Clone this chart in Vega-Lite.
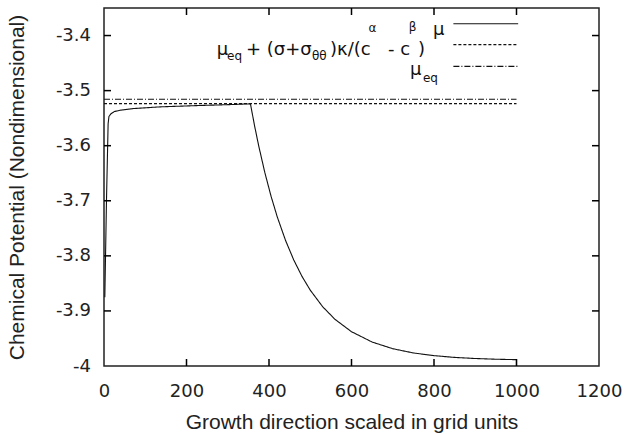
{
  "$schema": "https://vega.github.io/schema/vega-lite/v6.json",
  "width": 495,
  "height": 358,
  "autosize": "none",
  "padding": {"left": 104, "top": 8, "right": 28, "bottom": 68},
  "background": "white",
  "config": {
    "view": {"stroke": "#222", "strokeWidth": 1.5},
    "locale": {"number": {"decimal": ".", "thousands": ",", "grouping": [3], "currency": ["$", ""], "minus": "-"}},
    "axis": {"grid": false, "domain": false, "ticks": false, "labelColor": "#222", "titleColor": "#222", "zindex": 1}
  },
  "datasets": {
    "lines": [
      {"i": 1, "g": "mu", "s": "mu", "x": 2, "y": -3.875},
      {"i": 2, "g": "mu", "s": "mu", "x": 6, "y": -3.7},
      {"i": 3, "g": "mu", "s": "mu", "x": 10, "y": -3.56},
      {"i": 4, "g": "mu", "s": "mu", "x": 12, "y": -3.547},
      {"i": 5, "g": "mu", "s": "mu", "x": 17, "y": -3.542},
      {"i": 6, "g": "mu", "s": "mu", "x": 25, "y": -3.538},
      {"i": 7, "g": "mu", "s": "mu", "x": 39, "y": -3.5357},
      {"i": 8, "g": "mu", "s": "mu", "x": 71, "y": -3.5326},
      {"i": 9, "g": "mu", "s": "mu", "x": 136, "y": -3.5295},
      {"i": 10, "g": "mu", "s": "mu", "x": 233, "y": -3.527},
      {"i": 11, "g": "mu", "s": "mu", "x": 300, "y": -3.5255},
      {"i": 12, "g": "mu", "s": "mu", "x": 355, "y": -3.524},
      {"i": 13, "g": "mu", "s": "mu", "x": 365, "y": -3.5638},
      {"i": 14, "g": "mu", "s": "mu", "x": 375, "y": -3.6002},
      {"i": 15, "g": "mu", "s": "mu", "x": 390, "y": -3.6491},
      {"i": 16, "g": "mu", "s": "mu", "x": 405, "y": -3.6918},
      {"i": 17, "g": "mu", "s": "mu", "x": 420, "y": -3.7292},
      {"i": 18, "g": "mu", "s": "mu", "x": 440, "y": -3.7718},
      {"i": 19, "g": "mu", "s": "mu", "x": 460, "y": -3.8075},
      {"i": 20, "g": "mu", "s": "mu", "x": 480, "y": -3.8373},
      {"i": 21, "g": "mu", "s": "mu", "x": 500, "y": -3.8623},
      {"i": 22, "g": "mu", "s": "mu", "x": 530, "y": -3.8923},
      {"i": 23, "g": "mu", "s": "mu", "x": 560, "y": -3.9153},
      {"i": 24, "g": "mu", "s": "mu", "x": 600, "y": -3.9377},
      {"i": 25, "g": "mu", "s": "mu", "x": 650, "y": -3.9565},
      {"i": 26, "g": "mu", "s": "mu", "x": 700, "y": -3.9686},
      {"i": 27, "g": "mu", "s": "mu", "x": 750, "y": -3.9763},
      {"i": 28, "g": "mu", "s": "mu", "x": 800, "y": -3.9812},
      {"i": 29, "g": "mu", "s": "mu", "x": 850, "y": -3.9844},
      {"i": 30, "g": "mu", "s": "mu", "x": 900, "y": -3.9864},
      {"i": 31, "g": "mu", "s": "mu", "x": 950, "y": -3.9877},
      {"i": 32, "g": "mu", "s": "mu", "x": 1000, "y": -3.9885},
      {"i": 33, "g": "mu", "s": "mu", "x": 1000, "y": -4},
      {"i": 34, "g": "dash", "s": "dash", "x": 0, "y": -3.5236},
      {"i": 35, "g": "dash", "s": "dash", "x": 1000, "y": -3.5236},
      {"i": 36, "g": "dashdot", "s": "dashdot", "x": 0, "y": -3.5157},
      {"i": 37, "g": "dashdot", "s": "dashdot", "x": 1000, "y": -3.5157},
      {"i": 38, "g": "leg1", "s": "mu", "x": 847, "y": -3.3785},
      {"i": 39, "g": "leg1", "s": "mu", "x": 1004, "y": -3.3785},
      {"i": 40, "g": "leg2", "s": "dash", "x": 847, "y": -3.4165},
      {"i": 41, "g": "leg2", "s": "dash", "x": 1004, "y": -3.4165},
      {"i": 42, "g": "leg3", "s": "dashdot", "x": 847, "y": -3.4559},
      {"i": 43, "g": "leg3", "s": "dashdot", "x": 1004, "y": -3.4559}
    ],
    "labels": [
      {"x": 273.2, "y": -3.4346, "t": "μ", "k": "main"},
      {"x": 298.2, "y": -3.4437, "t": "eq", "k": "sub"},
      {"x": 344.2, "y": -3.4346, "t": "+ (σ+σ", "k": "main"},
      {"x": 504.2, "y": -3.4437, "t": "θθ", "k": "sub"},
      {"x": 547.9, "y": -3.4346, "t": ")κ/(c", "k": "main"},
      {"x": 641.0, "y": -3.393, "t": "α", "k": "sub"},
      {"x": 688.5, "y": -3.4346, "t": "- c", "k": "main"},
      {"x": 739.0, "y": -3.3911, "t": "β", "k": "sub"},
      {"x": 761.2, "y": -3.4346, "t": ")", "k": "main"},
      {"x": 797.6, "y": -3.3984, "t": "μ", "k": "main"},
      {"x": 741.8, "y": -3.4709, "t": "μ", "k": "main"},
      {"x": 773.3, "y": -3.4836, "t": "eq", "k": "sub"}
    ],
    "ticks": [
      {"side": "bottom", "x": 200, "y": -4},
      {"side": "bottom", "x": 400, "y": -4},
      {"side": "bottom", "x": 600, "y": -4},
      {"side": "bottom", "x": 800, "y": -4},
      {"side": "bottom", "x": 1000, "y": -4},
      {"side": "top", "x": 200, "y": -3.35},
      {"side": "top", "x": 400, "y": -3.35},
      {"side": "top", "x": 600, "y": -3.35},
      {"side": "top", "x": 800, "y": -3.35},
      {"side": "top", "x": 1000, "y": -3.35},
      {"side": "left", "x": 0, "y": -3.9},
      {"side": "left", "x": 0, "y": -3.8},
      {"side": "left", "x": 0, "y": -3.7},
      {"side": "left", "x": 0, "y": -3.6},
      {"side": "left", "x": 0, "y": -3.5},
      {"side": "left", "x": 0, "y": -3.4},
      {"side": "right", "x": 1200, "y": -3.9},
      {"side": "right", "x": 1200, "y": -3.8},
      {"side": "right", "x": 1200, "y": -3.7},
      {"side": "right", "x": 1200, "y": -3.6},
      {"side": "right", "x": 1200, "y": -3.5},
      {"side": "right", "x": 1200, "y": -3.4}
    ]
  },
  "layer": [
    {
      "data": {"name": "lines"},
      "mark": {"type": "line", "color": "#111", "strokeWidth": 1.1},
      "encoding": {
        "x": {
          "field": "x", "type": "quantitative",
          "scale": {"domain": [0, 1200], "nice": false, "zero": false},
          "axis": {
            "orient": "bottom", "values": [0, 200, 400, 600, 800, 1000, 1200], "format": "d",
            "labelPadding": 16, "labelFont": "DejaVu Sans", "labelFontSize": 18,
            "labelFlush": false, "labelOverlap": false,
            "title": "Growth direction scaled in grid units", "titleFont": "Liberation Sans",
            "titleFontSize": 21, "titleFontWeight": "normal", "titlePadding": 11
          }
        },
        "y": {
          "field": "y", "type": "quantitative",
          "scale": {"domain": [-4, -3.35], "nice": false, "zero": false},
          "axis": {
            "orient": "left", "values": [-4, -3.9, -3.8, -3.7, -3.6, -3.5, -3.4], "format": ".1~f",
            "labelPadding": 13.5, "labelFont": "DejaVu Sans", "labelFontSize": 18,
            "labelFlush": false, "labelOverlap": false,
            "title": "Chemical Potential (Nondimensional)", "titleFont": "Liberation Sans",
            "titleFontSize": 21, "titleFontWeight": "normal", "titlePadding": 28
          }
        },
        "detail": {"field": "g", "type": "nominal"},
        "order": {"field": "i", "type": "quantitative"},
        "strokeDash": {
          "field": "s", "type": "nominal",
          "scale": {"domain": ["mu", "dash", "dashdot"], "range": [[1, 0], [3, 2], [6, 2, 1, 2]]},
          "legend": null
        }
      }
    },
    {
      "data": {"name": "labels"},
      "mark": {"type": "text", "align": "left", "baseline": "alphabetic", "font": "DejaVu Sans", "color": "#111"},
      "encoding": {
        "x": {"field": "x", "type": "quantitative", "axis": null},
        "y": {"field": "y", "type": "quantitative", "axis": null},
        "text": {"field": "t", "type": "nominal"},
        "size": {"field": "k", "type": "ordinal", "scale": {"domain": ["main", "sub"], "range": [18, 12]}, "legend": null}
      }
    },
    {
      "data": {"name": "ticks"},
      "transform": [{"filter": "datum.side == 'bottom'"}],
      "mark": {"type": "tick", "orient": "vertical", "size": 7, "thickness": 1.5, "color": "#000", "opacity": 1, "yOffset": -3.5},
      "encoding": {
        "x": {"field": "x", "type": "quantitative", "axis": null},
        "y": {"field": "y", "type": "quantitative", "axis": null}
      }
    },
    {
      "data": {"name": "ticks"},
      "transform": [{"filter": "datum.side == 'top'"}],
      "mark": {"type": "tick", "orient": "vertical", "size": 7, "thickness": 1.5, "color": "#000", "opacity": 1, "yOffset": 3.5},
      "encoding": {
        "x": {"field": "x", "type": "quantitative", "axis": null},
        "y": {"field": "y", "type": "quantitative", "axis": null}
      }
    },
    {
      "data": {"name": "ticks"},
      "transform": [{"filter": "datum.side == 'left'"}],
      "mark": {"type": "tick", "orient": "horizontal", "size": 7, "thickness": 1.5, "color": "#000", "opacity": 1, "xOffset": 3.5},
      "encoding": {
        "x": {"field": "x", "type": "quantitative", "axis": null},
        "y": {"field": "y", "type": "quantitative", "axis": null}
      }
    },
    {
      "data": {"name": "ticks"},
      "transform": [{"filter": "datum.side == 'right'"}],
      "mark": {"type": "tick", "orient": "horizontal", "size": 7, "thickness": 1.5, "color": "#000", "opacity": 1, "xOffset": -3.5},
      "encoding": {
        "x": {"field": "x", "type": "quantitative", "axis": null},
        "y": {"field": "y", "type": "quantitative", "axis": null}
      }
    }
  ],
  "resolve": {"axis": {"x": "independent", "y": "independent"}}
}
